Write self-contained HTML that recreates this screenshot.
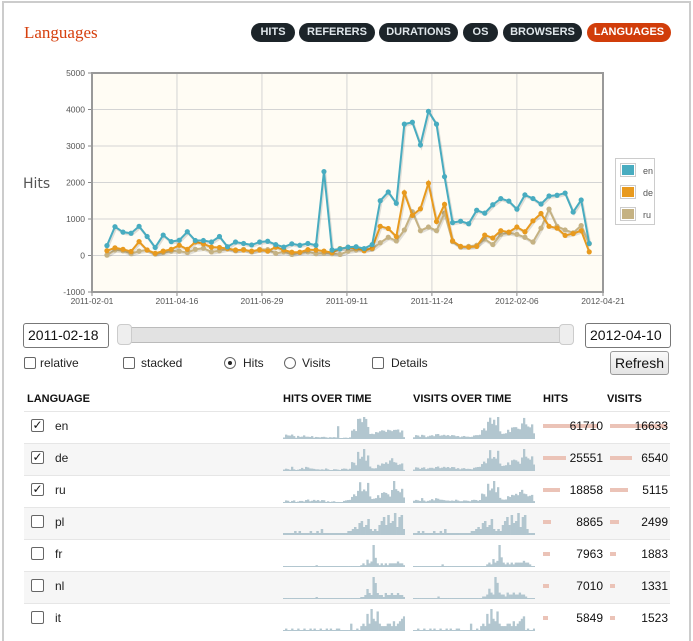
<!DOCTYPE html>
<html><head><meta charset="utf-8"><style>
*{box-sizing:border-box}
body{margin:0;width:693px;height:631px;overflow:hidden;background:#fff;font-family:"Liberation Sans",sans-serif;position:relative}
.frame{position:absolute;left:2px;top:1px;width:689px;height:640px;border:2px solid #ccc;border-bottom:none}
.abs{position:absolute}
.title{left:24px;top:23px;font-family:"Liberation Serif",serif;font-size:17px;color:#d6400e}
.tab{position:absolute;top:23px;height:19px;border-radius:10px;background:#1c2429;color:#dfe6ea;font-size:11px;font-weight:bold;text-align:center;line-height:19px}
.tab.on{background:#d13d0a;color:#fff}
.inp{position:absolute;border:1px solid #777;border-radius:3px;font-size:14px;line-height:22px;padding-left:4px;color:#111}
.cb{position:absolute;width:12px;height:12px;border:1px solid #666;border-radius:2px;background:#fff}
.rd{position:absolute;width:12px;height:12px;border:1px solid #666;border-radius:50%;background:#fff}
.lbl{position:absolute;font-size:12px;color:#222}
.th{position:absolute;top:393px;font-size:11px;font-weight:bold;color:#111}
.row{position:absolute;left:24px;width:646px;height:32px;border-top:1px solid #e6e6e6}
.row.alt{background:#f6f6f6}
.num{position:absolute;font-size:12px;color:#111;text-align:right}
</style></head><body>
<div class="frame"></div>
<div class="abs title">Languages</div>
<div class="tab" style="left:251px;width:44px">HITS</div>
<div class="tab" style="left:299px;width:76px">REFERERS</div>
<div class="tab" style="left:379px;width:79px">DURATIONS</div>
<div class="tab" style="left:463px;width:35px">OS</div>
<div class="tab" style="left:503px;width:79px">BROWSERS</div>
<div class="tab on" style="left:587px;width:84px">LANGUAGES</div>

<svg id="chart" class="abs" style="left:0;top:60px" width="693" height="250"></svg>

<div class="inp" style="left:23px;top:323px;width:86px;height:25px">2011-02-18</div>
<div class="abs" style="left:117px;top:327px;width:457px;height:16px;background:#e2e2e2;border:1px solid #bbb;border-radius:4px"></div>
<div class="abs" style="left:117px;top:324px;width:15px;height:21px;background:#eee;border:1px solid #ccc;border-radius:4px"></div>
<div class="abs" style="left:559px;top:324px;width:15px;height:21px;background:#eee;border:1px solid #ccc;border-radius:4px"></div>
<div class="inp" style="left:585px;top:323px;width:86px;height:25px">2012-04-10</div>

<div class="cb" style="left:24px;top:357px"></div><div class="lbl" style="left:40px;top:356px">relative</div>
<div class="cb" style="left:123px;top:357px"></div><div class="lbl" style="left:141px;top:356px">stacked</div>
<div class="rd" style="left:224px;top:357px"><div style="position:absolute;left:3px;top:3px;width:4px;height:4px;border-radius:50%;background:#222"></div></div><div class="lbl" style="left:243px;top:356px">Hits</div>
<div class="rd" style="left:284px;top:357px"></div><div class="lbl" style="left:302px;top:356px">Visits</div>
<div class="cb" style="left:372px;top:357px"></div><div class="lbl" style="left:391px;top:356px">Details</div>
<div class="abs" style="left:610px;top:351px;width:59px;height:24px;border:1px solid #999;border-radius:3px;background:linear-gradient(#fafafa,#e4e4e4);font-size:14px;text-align:center;line-height:22px;color:#111">Refresh</div>

<div class="th" style="left:27px">LANGUAGE</div>
<div class="th" style="left:283px">HITS OVER TIME</div>
<div class="th" style="left:413px">VISITS OVER TIME</div>
<div class="th" style="left:543px">HITS</div>
<div class="th" style="left:607px">VISITS</div>
<div id="rows"></div>

<script>
const NS='http://www.w3.org/2000/svg';
const dates=['2011-02-01','2011-04-16','2011-06-29','2011-09-11','2011-11-24','2012-02-06','2012-04-21'];
const yTicks=[-1000,0,1000,2000,3000,4000,5000];
const enHits=[270,790,640,610,800,520,220,560,380,420,650,410,410,370,520,240,370,330,290,370,390,300,230,320,280,330,280,2300,150,180,230,240,190,300,1500,1740,1430,3600,3650,3030,3950,3600,2160,900,940,870,1240,1160,1390,1560,1490,1270,1660,1560,1410,1630,1650,1710,1190,1520,330];
const deHits=[130,210,170,110,380,150,60,120,170,280,170,370,320,230,220,190,150,150,120,150,120,230,150,90,90,160,150,120,80,190,220,200,130,200,800,740,520,1720,1100,1280,1980,930,1400,400,250,230,250,560,480,680,640,780,650,950,1150,800,750,550,600,680,100];
const ruHits=[10,150,130,50,120,150,40,80,120,120,80,170,200,100,130,180,130,170,100,170,160,60,100,30,80,100,50,60,50,30,120,150,170,180,350,500,400,700,1200,680,780,680,1160,380,230,250,280,450,300,580,620,580,500,370,750,1270,800,700,620,820,320];
const seriesNames=['en','de','ru'];
const seriesColors=['#48acc0','#e89a1e','#c5b283'];
const series=[enHits,deHits,ruHits];
const firstDay=13, stepDays=7;

const svg=document.getElementById('chart');
function el(t,a,p){const e=document.createElementNS(NS,t);for(const k in a)e.setAttribute(k,a[k]);(p||svg).appendChild(e);return e;}
const X0=92,X1=603,Y0=13,Y1=232;
const dayOf=s=>(new Date(s)-new Date(dates[0]))/864e5;
const dMax=dayOf(dates[dates.length-1]);
const xs=d=>X0+(X1-X0)*d/dMax;
const ys=v=>Y1-(Y1-Y0)*(v-yTicks[0])/(yTicks[yTicks.length-1]-yTicks[0]);
const bg=el('rect',{x:X0,y:Y0,width:X1-X0,height:Y1-Y0,fill:'#fffcf4'});

yTicks.forEach(v=>{
  const g=el('line',{x1:X0,x2:X1,y1:ys(v),y2:ys(v),stroke:'#d4d4d4','stroke-width':1});
  
  el('line',{x1:X0-4,x2:X0,y1:ys(v),y2:ys(v),stroke:'#888'});
  const t=el('text',{x:X0-7,y:ys(v)+3,'text-anchor':'end','font-size':8.5,fill:'#555','font-family':'Liberation Sans'});
  t.textContent=v;
});
dates.forEach(d=>{
  const x=xs(dayOf(d));
  const g=el('line',{x1:x,x2:x,y1:Y0,y2:Y1,stroke:'#d4d4d4'});
  
  el('line',{x1:x,x2:x,y1:Y1,y2:Y1+4,stroke:'#888'});
  const t=el('text',{x:x,y:Y1+12,'text-anchor':'middle','font-size':8.5,fill:'#555','font-family':'Liberation Sans'});
  t.textContent=d;
});
const yt=el('text',{x:23,y:128,'font-size':14,fill:'#555','font-family':'DejaVu Sans'});
yt.textContent='Hits';
[2,1,0].forEach(si=>{
  const vals=series[si];
  const pts=vals.map((v,i)=>[xs(firstDay+i*stepDays),ys(v)]);
  const sh=el('polyline',{points:pts.map(p=>(p[0]+1)+','+(p[1]+1.5)).join(' '),fill:'none',stroke:'rgba(0,0,0,0.12)','stroke-width':2.5});
  const ln=el('polyline',{points:pts.map(p=>p.join(',')).join(' '),fill:'none',stroke:seriesColors[si],'stroke-width':2});
  
  pts.forEach(p=>{
    const c=el('circle',{cx:p[0],cy:p[1],r:2.6,fill:seriesColors[si]});
    
  });
});
const fr=el('rect',{x:X0,y:Y0,width:X1-X0,height:Y1-Y0,fill:'none',stroke:'#999','stroke-width':2});

const lg=el('rect',{x:615.5,y:98.5,width:39,height:66,fill:'#fff',stroke:'#ccc'});

seriesNames.forEach((n,i)=>{
  const y=104+i*22;
  const b=el('rect',{x:620.5,y:y-0.5,width:15,height:13,fill:'#fff',stroke:'#ccc'});
  const s=el('rect',{x:622,y:y+1,width:12,height:10,fill:seriesColors[i]});
  
  const t=el('text',{x:643,y:y+10,'font-size':9,fill:'#555','font-family':'Liberation Sans'});
  t.textContent=n;
});

// table data
const langs=['en','de','ru','pl','fr','nl','it'];
const hitTotals=[61710,25551,18858,8865,7963,7010,5849];
const visitTotals=[16633,6540,5115,2499,1883,1331,1523];
const checked=[true,true,true,false,false,false,false];
const plSpark=[1,1,1,1,1,2,1,2,1,1,1,1,2,1,1,2,1,3,1,1,1,1,1,1,1,1,1,1,1,2,2,3,4,3,6,7,4,5,8,3,2,3,2,5,7,9,5,10,6,7,11,4,9,10,3];
const frSpark=[0,0,0,0,0,0,0,0,0,0,0,0,0,0,0,0,1,0,0,0,0,0,0,0,0,0,0,0,0,0,0,0,0,0,0,0,0,0,1,2,1,4,2,3,12,5,2,1,2,1,2,1,2,2,2,2,3,2,2,1];
const nlSpark=[0,0,0,0,0,0,0,0,0,0,0,0,0,0,0,0,1,0,0,0,0,0,0,0,0,0,0,0,0,0,0,0,0,0,0,0,0,0,1,1,2,5,3,2,11,8,3,2,2,1,3,2,2,3,2,2,3,2,2,1];
const itSpark=[0,1,0,0,1,0,0,1,0,0,1,0,0,1,0,1,0,0,1,0,0,1,0,1,0,0,1,1,0,0,0,0,0,3,0,0,1,0,2,3,2,7,3,9,5,4,8,3,2,2,2,3,3,2,4,2,3,4,5,6];
const hitSparks=[enHits,deHits,ruHits,plSpark,frSpark,nlSpark,itSpark];
const visitSparks=[
 enHits.map((v,i)=>ruHits[i]+deHits[i]*0.3+80),
 deHits.map((v,i)=>ruHits[i]*0.8+60),
 ruHits.map((v,i)=>deHits[i]*0.5+40),
 plSpark.map((v,i)=>plSpark[(i+3)%plSpark.length]),
 frSpark.map((v,i)=>frSpark[(i+2)%frSpark.length]*0.6+0.3),
 nlSpark.map((v,i)=>nlSpark[(i+4)%nlSpark.length]*0.7+0.2),
 itSpark.map((v,i)=>itSpark[(i+5)%itSpark.length])
];
const rows=document.getElementById('rows');
function spark(vals,x,top){
  const s=document.createElementNS(NS,'svg');
  s.setAttribute('width',122);s.setAttribute('height',24);
  s.style.cssText='position:absolute;left:'+x+'px;top:'+top+'px';
  const mx=Math.max(...vals),w=122/vals.length;
  vals.forEach((v,i)=>{const h=Math.max(1,22*v/mx);const r=document.createElementNS(NS,'rect');
    r.setAttribute('x',i*w);r.setAttribute('y',24-h);r.setAttribute('width',w+0.3);r.setAttribute('height',h);r.setAttribute('fill','#b2c6cf');s.appendChild(r);});
  return s;
}
const hMax=hitTotals[0],vMax=visitTotals[0];
langs.forEach((l,i)=>{
  const top=411+i*32;
  const r=document.createElement('div');r.className='row'+(i%2?' alt':'');r.style.top=top+'px';
  
  
  rows.appendChild(r);
  const cb=document.createElement('div');cb.className='cb';cb.style.cssText='left:31px;top:'+(top+8)+'px;width:13px;height:13px;font-size:12px;line-height:11px;text-align:center;color:#111';
  if(checked[i])cb.textContent='✓';
  
  
  rows.appendChild(cb);
  const t=document.createElement('div');t.className='lbl';t.style.cssText='left:55px;top:'+(top+8)+'px;font-size:12px';t.textContent=l;
  
  
  rows.appendChild(t);
  const s1=spark(hitSparks[i],283,top+4);
  
  
  rows.appendChild(s1);
  const s2=spark(visitSparks[i],413,top+4);
  
  
  rows.appendChild(s2);
  const hb=document.createElement('div');hb.className='abs';hb.style.cssText='left:543px;top:'+(top+13)+'px;height:4px;background:#ebc3b7;width:'+Math.max(4,55*hitTotals[i]/hMax)+'px';
  
  
  rows.appendChild(hb);
  const vb=document.createElement('div');vb.className='abs';vb.style.cssText='left:610px;top:'+(top+13)+'px;height:4px;background:#ebc3b7;width:'+Math.max(4,57*visitTotals[i]/vMax)+'px';
  
  
  rows.appendChild(vb);
  const hn=document.createElement('div');hn.className='num';hn.style.cssText='left:540px;width:63px;top:'+(top+8)+'px';hn.textContent=hitTotals[i];
  
  
  rows.appendChild(hn);
  const vn=document.createElement('div');vn.className='num';vn.style.cssText='left:610px;width:58px;top:'+(top+8)+'px';vn.textContent=visitTotals[i];
  
  
  rows.appendChild(vn);
});
</script>
</body></html>
